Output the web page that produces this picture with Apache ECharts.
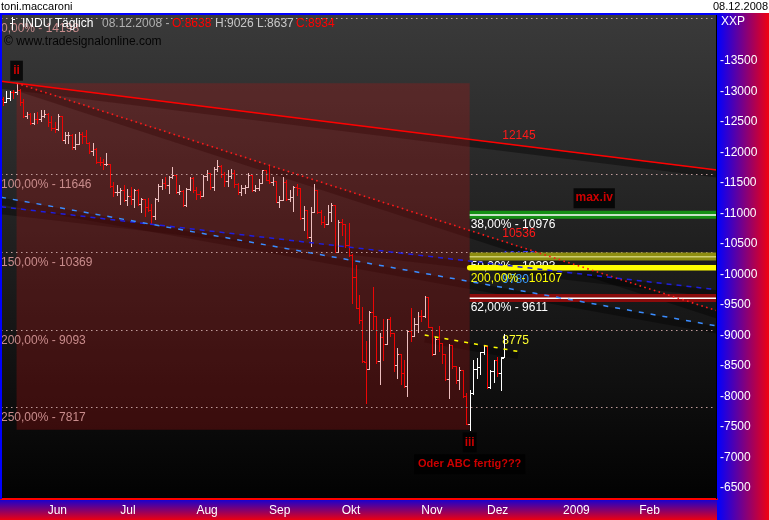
<!DOCTYPE html>
<html><head><meta charset="utf-8">
<script src="https://cdn.jsdelivr.net/npm/echarts@6/dist/echarts.min.js"></script>
<style>html,body{margin:0;padding:0;background:#fff}#c{width:769px;height:520px}</style>
</head><body><div id="c"></div>
<script>
// ---------- DATA ----------
const monthDays = [
  ['2008-05', [13,14,15,16,19,20,21,22,23,27,28,29,30]],
  ['2008-06', [2,3,4,5,6,9,10,11,12,13,16,17,18,19,20,23,24,25,26,27,30]],
  ['2008-07', [1,2,3,7,8,9,10,11,14,15,16,17,18,21,22,23,24,25,28,29,30,31]],
  ['2008-08', [1,4,5,6,7,8,11,12,13,14,15,18,19,20,21,22,25,26,27,28,29]],
  ['2008-09', [2,3,4,5,8,9,10,11,12,15,16,17,18,19,22,23,24,25,26,29,30]],
  ['2008-10', [1,2,3,6,7,8,9,10,13,14,15,16,17,20,21,22,23,24,27,28,29,30,31]],
  ['2008-11', [3,4,5,6,7,10,11,12,13,14,17,18,19,20,21,24,25,26,28]],
  ['2008-12', [1,2,3,4,5,8,9,10,11,12,15,16,17,18,19,22,23,24,26,29,30,31]],
  ['2009-01', [1,2,5,6,7,8,9,12,13,14,15,16,19,20,21,22,23,26,27,28,29,30]],
  ['2009-02', [2,3,4,5,6,9,10,11,12,13,16,17,18,19,20,23,24,25,26,27]],
  ['2009-03', [2,3,4]]
];
const tickMonths = ['2008-06','2008-07','2008-08','2008-09','2008-10','2008-11','2008-12','2009-01','2009-02'];
const tickLabels = ['Jun','Jul','Aug','Sep','Okt','Nov','Dez','2009','Feb'];
const yTicks = [6500,7000,7500,8000,8500,9000,9500,10000,10500,11000,11500,12000,12500,13000,13500];

const opens = [12876,12832,12898,12993,12987,13028,12829,12601,12626,12480,12548,12543,12594,
12638,12504,12403,12390,12604,12210,12280,12290,12084,12142,12307,12269,12160,12029,12063,11843,11842,11807,11812,11453,11347,
11350,11382,11216,11289,11232,11384,11147,11229,11101,11055,10963,11239,11447,11497,11467,11603,11632,11349,11371,11131,11398,11584,
11378,11326,11284,11616,11656,11431,11734,11782,11642,11533,11616,11660,11479,11349,11417,11430,11628,11386,11413,11503,11715,
11544,11517,11533,11188,11221,11511,11231,11269,11434,11422,10918,11059,10610,11020,11388,11016,10854,10825,11022,11143,10365,
10851,10831,10483,10325,9956,9447,9258,8568,8451,9388,9311,8578,8979,8852,9265,9034,8519,8691,8379,8176,9065,8991,9181,
9325,9320,9625,9139,8696,8944,8871,8694,8283,8835,8497,8274,8425,7997,7552,8046,8443,8479,8727,
8829,8149,8419,8592,8376,8638];
const highs = [12910,13000,13000,13030,13136,13036,12870,12670,12640,12640,12670,12700,12690,
12640,12600,12500,12630,12604,12330,12340,12300,12300,12340,12340,12370,12170,12150,12070,11930,11900,11990,11812,11520,11470,
11420,11460,11400,11440,11400,11400,11260,11230,11250,11150,11250,11480,11560,11600,11620,11760,11640,11470,11380,11420,11600,11600,
11440,11360,11630,11720,11660,11760,11870,11800,11680,11720,11730,11710,11500,11470,11470,11660,11630,11470,11560,11720,11715,
11790,11590,11533,11280,11600,11550,11390,11450,11480,11422,11120,11060,11100,11480,11390,11060,10960,11140,11170,11143,10890,
10900,10831,10844,10330,10150,9660,9460,8901,9400,9794,9311,9040,9265,9270,9300,9040,8800,8691,8600,9080,9440,9290,9380,
9420,9650,9630,9140,8980,9150,8880,8700,8850,8840,8500,8480,8430,8050,8100,8600,8630,8730,8830,
8829,8430,8600,8650,8650,9026];
const lows = [12780,12830,12860,12900,12960,12780,12580,12570,12460,12470,12490,12520,12580,
12430,12360,12330,12370,12200,12150,12160,12060,12060,12140,12150,12150,11990,11950,11830,11800,11730,11790,11440,11290,11300,
11150,11200,11130,11150,11100,11130,11030,10960,11040,10827,10900,11200,11400,11420,11330,11580,11340,11320,11120,11120,11380,11350,
11230,11250,11280,11540,11400,11380,11700,11600,11450,11450,11580,11440,11320,11310,11330,11430,11370,11360,11380,11500,11540,
11499,11470,11180,11100,11221,11220,11200,11040,11300,10900,10730,10600,10459,11020,11000,10830,10780,10825,10880,10365,10365,
10650,10450,10300,9525,9440,9200,8570,7882,8451,9100,8540,8200,8600,8850,8990,8410,8300,8200,8150,8000,8900,8990,9050,
9240,9300,9130,8670,8690,8750,8550,8270,7965,8460,8210,8120,7990,7540,7449,8040,8300,8370,8700,
8141,8140,8240,8330,8100,8637];
const closes = [12832,12898,12993,12987,13028,12829,12601,12626,12480,12548,12543,12594,12638,
12504,12403,12390,12604,12210,12280,12290,12084,12142,12307,12269,12160,12029,12063,11843,11842,11807,11812,11453,11347,11350,
11382,11216,11289,11232,11384,11147,11229,11101,11055,10963,11239,11447,11497,11467,11603,11632,11349,11371,11131,11398,11584,11378,
11326,11284,11616,11656,11431,11734,11782,11642,11533,11616,11660,11479,11349,11417,11430,11628,11386,11413,11503,11715,11544,
11517,11533,11188,11221,11511,11231,11269,11434,11422,10918,11059,10610,11020,11388,11016,10854,10825,11022,11143,10365,10851,
10831,10483,10325,9956,9447,9258,8579,8451,9388,9311,8578,8979,8852,9265,9034,8519,8691,8379,8176,9065,8991,9181,9325,
9320,9625,9139,8696,8944,8871,8694,8283,8835,8497,8274,8425,7997,7552,8046,8443,8479,8727,8829,
8149,8419,8592,8376,8635,8934];

// Fibonacci projection levels (full width)
const fibPct = [0, 100, 150, 200, 250];
const fibVal = [14198, 11646, 10369, 9093, 7817];
// Retracement bands (right side)
const bandStart = '2008-11-21';
const bandPct = [38, 50, 200, 62];
const bandVal = [10976, 10293, 10107, 9611];
// Trend lines: anchor A and anchor B
const trendA = ['2008-05-19','2008-05-19','2008-05-13','2008-05-13','2008-11-04'];
const trendAVal = [13136, 13136, 11105, 11260, 9005];
const trendB = ['2008-12-08','2008-12-08','2008-12-08','2008-12-08','2008-12-08'];
const trendBVal = [12145, 10536, 10152, 9780, 8775];
const trendEnd = [null, null, null, null, '2008-12-12'];
// Box (swing high -> swing low)
const boxFrom = '2008-05-19', boxTo = '2008-11-21';
// Annotations
const annText = ['ii', 'iii', 'Oder ABC fertig???', 'max.iv'];
const annDate = ['2008-05-19', '2008-11-21', '2008-11-21', '2009-01-14'];
const annVal = [13136, 7449, 7449, 11250];

// ---------- BUILD ----------
const dates = monthDays.flatMap(([m, ds]) => ds.map(d => m + '-' + String(d).padStart(2, '0')));
const idxOf = d => dates.indexOf(d);
const FONT = '"Liberation Sans", Arial, sans-serif';
const labelByIdx = {};
tickMonths.forEach((m, k) => { labelByIdx[dates.findIndex(d => d.startsWith(m))] = tickLabels[k]; });
const isTick = (i) => labelByIdx[i] !== undefined;
const last = closes.length - 1;
const fmtPct = p => p.toFixed(2).replace('.', ',') + '%';

const ohlcData = closes.map((c, i) => [i, opens[i], highs[i], lows[i], c]);
const trendData = trendA.map((d, k) => [idxOf(d), trendAVal[k], idxOf(trendB[k]), trendBVal[k], k]);
const trendStyle = [
  {color: '#ff0000', width: 1.5, dash: null, fromEdge: true, label: '#ff1a1a'},
  {color: '#ff1a1a', width: 1.6, dash: [1.6, 3.4], fromEdge: false, label: '#ff1a1a'},
  {color: '#1e1ee0', width: 1.5, dash: [5, 5], fromEdge: true, label: '#3a3aff'},
  {color: '#3a8cff', width: 1.5, dash: [5, 7], fromEdge: true, label: '#3a9cff'},
  {color: '#ffff00', width: 1.5, dash: [4, 6], fromEdge: false, label: '#ffff30'}
];
const bandStyle = [
  {kind: 'band', fill: '#149014', mid: '#ffffff', text: '#ffffff'},
  {kind: 'band', fill: '#8e8e10', mid: '#cfcf70', text: '#ffffff'},
  {kind: 'thick', fill: '#ffff00', text: '#ffff00'},
  {kind: 'band', fill: '#8a0c0c', mid: '#ffffff', text: '#ffffff'}
];

function trendGeom(params, api) {
  const k = api.value(4), st = trendStyle[k];
  const pA = api.coord([api.value(0), api.value(1)]);
  const pB = api.coord([api.value(2), api.value(3)]);
  const cs = params.coordSys;
  const slope = (pB[1] - pA[1]) / (pB[0] - pA[0]);
  const x1 = st.fromEdge ? cs.x : pA[0];
  const x2 = trendEnd[k] ? api.coord([idxOf(trendEnd[k]), 0])[0] : cs.x + cs.width;
  const yAt = x => pA[1] + slope * (x - pA[0]);
  return {k, st, pA, pB, x1, x2, y1: yAt(x1), y2: yAt(x2)};
}

function renderTrendShadow(params, api) {
  const g = trendGeom(params, api);
  return {type: 'group', children: [
    {type: 'line', shape: {x1: g.x1, y1: g.y1 + 4, x2: g.x2, y2: g.y2 + 4},
     style: {stroke: 'rgba(0,0,0,0.36)', lineWidth: 7}},
    {type: 'text', x: g.pB[0] - 2, y: g.pB[1] - 8,
     style: {text: String(api.value(3)), fill: g.st.label, font: '12px ' + FONT,
             align: 'left', verticalAlign: 'middle', textAlign: 'left', textVerticalAlign: 'middle'}}
  ]};
}
function renderTrend(params, api) {
  const g = trendGeom(params, api);
  const style = {stroke: g.st.color, lineWidth: g.st.width};
  if (g.st.dash) style.lineDash = g.st.dash;
  return {type: 'line', shape: {x1: g.x1, y1: g.y1, x2: g.x2, y2: g.y2}, style};
}
function renderBar(params, api) {
  const i = api.value(0);
  const x = Math.round(api.coord([i, 10000])[0]) + 0.5;
  const y = v => Math.round(api.coord([i, v])[1]);
  const o = api.value(1), h = api.value(2), l = api.value(3), c = api.value(4);
  const col = c >= o ? '#ffffff' : '#ff0000';
  const s = {stroke: col, lineWidth: 1};
  return {type: 'group', children: [
    {type: 'line', shape: {x1: x, y1: y(h), x2: x, y2: y(l) + 1}, style: s},
    {type: 'line', shape: {x1: x - 2.5, y1: y(o) + 0.5, x2: x, y2: y(o) + 0.5}, style: s},
    {type: 'line', shape: {x1: x, y1: y(c) + 0.5, x2: x + 2.5, y2: y(c) + 0.5}, style: s}
  ]};
}
function renderBox(params, api) {
  const p1 = api.coord([api.value(0), api.value(1)]);
  const p2 = api.coord([api.value(2), api.value(3)]);
  return {type: 'rect', shape: {x: p1[0], y: p1[1], width: p2[0] - p1[0], height: p2[1] - p1[1]},
          style: {fill: 'rgba(190,18,18,0.27)'}};
}
function renderFib(params, api) {
  const cs = params.coordSys;
  const v = api.value(1), p = api.value(2);
  const y = Math.round(api.coord([0, v])[1]) + 0.5;
  return {type: 'group', children: [
    {type: 'line', shape: {x1: cs.x, y1: y, x2: cs.x + cs.width, y2: y},
     style: {stroke: '#c09c9c', lineWidth: 1, lineDash: [1.5, 3.5]}},
    {type: 'text', x: cs.x, y: y + 4,
     style: {text: fmtPct(p) + ' - ' + v, fill: '#c98c8c', font: '12px ' + FONT,
             align: 'left', verticalAlign: 'top', textAlign: 'left', textVerticalAlign: 'top'}}
  ]};
}
function renderBand(params, api) {
  const cs = params.coordSys;
  const k = api.value(2), st = bandStyle[k];
  const p = api.coord([api.value(0), api.value(1)]);
  const x1 = p[0], x2 = cs.x + cs.width, y = p[1];
  const ch = [];
  if (st.kind === 'band') {
    ch.push({type: 'rect', shape: {x: x1, y: y - 4, width: x2 - x1, height: 8}, style: {fill: st.fill}});
    ch.push({type: 'rect', shape: {x: x1, y: y - 0.5, width: x2 - x1, height: 1.5}, style: {fill: st.mid}});
  } else {
    ch.push({type: 'line', shape: {x1: x1, y1: y, x2: x2, y2: y}, style: {stroke: st.fill, lineWidth: 5.5, lineCap: 'round'}});
  }
  ch.push({type: 'text', x: x1 + 1, y: y + (st.kind === 'band' ? 4 : 5),
    style: {text: fmtPct(bandPct[k]) + ' - ' + api.value(1), fill: st.text, font: '12px ' + FONT,
            align: 'left', verticalAlign: 'top', textAlign: 'left', textVerticalAlign: 'top'}});
  return {type: 'group', children: ch};
}

const annLabel = [
  {position: 'top', distance: 2, padding: [4, 3], fontSize: 12},
  {position: 'bottom', distance: 2, padding: [4, 2], fontSize: 12},
  {position: 'bottom', distance: 24, padding: [4, 4], fontSize: 11},
  {position: 'inside', distance: 0, padding: [4, 2], fontSize: 12}
];
const annData = annText.map((t, k) => ({
  value: [idxOf(annDate[k]), annVal[k]],
  label: Object.assign({show: true, formatter: t, color: '#ff0000', fontWeight: 'bold', fontFamily: FONT,
    backgroundColor: '#000000', lineHeight: 12}, annLabel[k])
}));

const lastDate = dates[last].split('-');
const dateStr = lastDate[2] + '.' + lastDate[1] + '.' + lastDate[0];
const grad = (x, y, x2, y2, a, b) => new echarts.graphic.LinearGradient(x, y, x2, y2, [{offset: 0, color: a}, {offset: 1, color: b}]);
const txt = (x, y, text, fill, size, align, extra) => Object.assign({type: 'text', x, y, z: 100,
  style: {text, fill, font: (size || 12) + 'px ' + FONT, align: align || 'left', verticalAlign: 'middle',
          textAlign: align || 'left', textVerticalAlign: 'middle'}}, extra || {});

const chart = echarts.init(document.getElementById('c'), null, {renderer: 'canvas'});
chart.setOption({
  animation: false,
  backgroundColor: '#ffffff',
  grid: {left: 1, right: 52, top: 14, bottom: 21},
  xAxis: {
    type: 'category', data: dates, boundaryGap: true,
    axisLine: {lineStyle: {color: '#ff0000', width: 2}},
    axisTick: {interval: (i) => isTick(i), length: 5, lineStyle: {color: '#ffffff'}},
    axisLabel: {interval: (i) => isTick(i), formatter: (v, i) => labelByIdx[i] || '', color: '#ffffff',
      fontSize: 12, fontFamily: FONT, align: 'left', margin: 6},
    splitLine: {show: false}
  },
  yAxis: {
    type: 'value', position: 'right', min: 6315, max: 14271,
    splitLine: {show: false}, axisLine: {show: false}, axisTick: {show: false},
    axisLabel: {customValues: yTicks, formatter: v => '-' + v, color: '#ffffff', fontSize: 12, fontFamily: FONT, margin: 3}
  },
  graphic: [
    {type: 'rect', z: -10, shape: {x: 1, y: 14, width: 716, height: 485}, style: {fill: grad(0, 0, 0, 1, '#3a3a3a', '#020202')}},
    {type: 'rect', z: -10, shape: {x: 717, y: 13, width: 52, height: 507}, style: {fill: grad(0, 0, 1, 0, '#0000ff', '#f00010')}},
    {type: 'rect', z: -10, shape: {x: 0, y: 499, width: 717, height: 21}, style: {fill: grad(0, 0, 0, 1, '#1000d8', '#ec0010')}},
    {type: 'rect', z: 50, shape: {x: 0, y: 13, width: 717, height: 2}, style: {fill: '#0000ff'}},
    {type: 'rect', z: 50, shape: {x: 0, y: 13, width: 2, height: 486}, style: {fill: '#0000ff'}},
    {type: 'rect', z: 50, shape: {x: 716, y: 15, width: 1, height: 484}, style: {fill: '#000000'}},
    {type: 'line', z: 100, shape: {x1: 12.5, y1: 17, x2: 12.5, y2: 30}, style: {stroke: '#ffffff', lineWidth: 1}},
    {type: 'line', z: 100, shape: {x1: 10, y1: 23.5, x2: 12.5, y2: 23.5}, style: {stroke: '#ffffff', lineWidth: 1}},
    {type: 'line', z: 100, shape: {x1: 12.5, y1: 19.5, x2: 15, y2: 19.5}, style: {stroke: '#ffffff', lineWidth: 1}},
    txt(1, 7, 'toni.maccaroni', '#000000', 11),
    txt(768, 7, dateStr, '#000000', 11, 'right'),
    txt(22, 24, 'INDU Täglich', '#ffffff', 12),
    txt(102, 24, dateStr + ' -', '#b0b0b0', 12),
    txt(172, 24, 'O:' + opens[last], '#ff0000', 12),
    txt(215, 24, 'H:' + highs[last] + ' L:' + lows[last], '#c8c8c8', 12),
    txt(296, 24, 'C:' + closes[last], '#ff0000', 12),
    txt(4, 42, '© www.tradesignalonline.com', '#050505', 12),
    txt(721, 22, 'XXP', '#ffffff', 12)
  ],
  series: [
    {type: 'custom', name: 'shadows', z: 2, clip: true, silent: true, renderItem: renderTrendShadow, data: trendData},
    {type: 'custom', name: 'INDU', z: 3, clip: true, silent: true, renderItem: renderBar, data: ohlcData},
    {type: 'custom', name: 'box', z: 4, clip: true, silent: true, renderItem: renderBox,
      data: [[idxOf(boxFrom), highs[idxOf(boxFrom)], idxOf(boxTo), lows[idxOf(boxTo)]]]},
    {type: 'custom', name: 'fib', z: 5, clip: true, silent: true, renderItem: renderFib,
      data: fibVal.map((v, k) => [0, v, fibPct[k]])},
    {type: 'custom', name: 'bands', z: 5, clip: true, silent: true, renderItem: renderBand,
      data: bandVal.map((v, k) => [idxOf(bandStart), v, k])},
    {type: 'custom', name: 'trend', z: 6, clip: true, silent: true, renderItem: renderTrend, data: trendData},
    {type: 'scatter', name: 'notes', z: 8, silent: true, symbolSize: 1, itemStyle: {color: 'rgba(0,0,0,0)'}, data: annData}
  ]
});
</script>
</body></html>
